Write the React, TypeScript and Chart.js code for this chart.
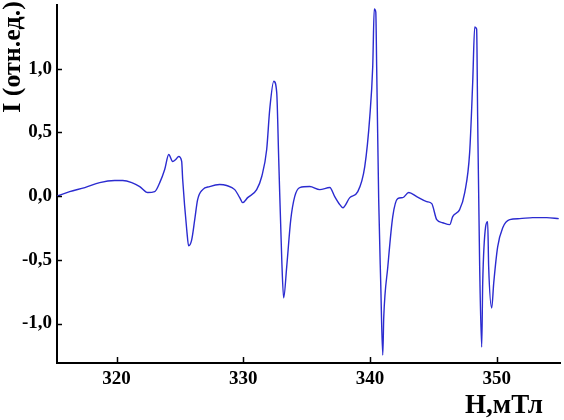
import React, { useEffect, useRef } from "react";
import { Chart, registerables } from "chart.js";

Chart.register(...registerables);

const FIELD = [315.3, 316.3, 317.5, 318.67, 319.85, 320.49, 321.2, 321.83, 322.46, 323.01, 323.41, 323.8, 324.12, 324.43, 324.67, 324.91, 325.14, 325.22, 325.54, 325.69, 325.93, 326.17, 326.4, 326.8, 327.35, 328.14, 328.69, 329.33, 329.72, 329.96, 330.35, 331.06, 331.46, 331.85, 332.09, 332.41, 332.64, 332.8, 333.04, 333.19, 333.43, 333.75, 334.06, 334.46, 335.25, 336.04, 336.83, 337.22, 337.62, 337.86, 338.41, 339.04, 339.59, 339.99, 340.22, 340.34, 340.46, 340.53, 340.69, 340.85, 341.01, 341.09, 341.41, 341.8, 342.19, 342.59, 343.06, 343.69, 344.48, 344.88, 345.27, 345.74, 346.3, 346.53, 347.08, 347.48, 347.87, 348.11, 348.27, 348.42, 348.5, 348.66, 348.82, 348.9, 349.13, 349.29, 349.37, 349.61, 349.77, 350.08, 350.48, 351.03, 351.82, 352.85, 353.95, 354.9];

const INTENSITY = [0.0, 0.035, 0.067, 0.106, 0.122, 0.122, 0.106, 0.075, 0.028, 0.035, 0.106, 0.209, 0.327, 0.272, 0.287, 0.311, 0.272, 0.13, -0.264, -0.39, -0.343, -0.185, -0.028, 0.051, 0.075, 0.091, 0.083, 0.051, -0.012, -0.051, -0.012, 0.051, 0.154, 0.366, 0.681, 0.902, 0.815, 0.287, -0.5, -0.799, -0.555, -0.185, -0.004, 0.067, 0.075, 0.051, 0.067, -0.004, -0.067, -0.091, -0.012, 0.035, 0.232, 0.626, 1.02, 1.469, 1.445, 1.02, -0.028, -0.681, -1.248, -0.949, -0.555, -0.161, -0.02, -0.012, 0.028, -0.004, -0.043, -0.059, -0.185, -0.209, -0.224, -0.161, -0.106, 0.028, 0.343, 0.894, 1.327, 1.311, 0.626, -0.555, -1.185, -0.681, -0.24, -0.201, -0.555, -0.878, -0.681, -0.398, -0.248, -0.185, -0.177, -0.169, -0.169, -0.177];

const X_TICKS = [320, 330, 340, 350];
const Y_TICKS = [-1.0, -0.5, 0.0, 0.5, 1.0];
const X_TITLE = "H,мТл";
const Y_TITLE = "I (отн.ед.)";

const FONT = "'Liberation Serif', 'Times New Roman', serif";

const fmtY = (v: number) => v.toFixed(1).replace(".", ",");

const decorPlugin = {
  id: "decor",
  afterDraw(chart: any) {
    const { ctx, chartArea: area } = chart;
    const xs = chart.scales.x;
    const ys = chart.scales.y;
    ctx.save();
    ctx.strokeStyle = "#000";
    ctx.lineWidth = 1.5;
    xs.ticks.forEach((t: any) => {
      const px = Math.round(xs.getPixelForValue(t.value)) + 0.5;
      ctx.beginPath();
      ctx.moveTo(px, area.bottom);
      ctx.lineTo(px, area.bottom - 6);
      ctx.stroke();
    });
    ys.ticks.forEach((t: any) => {
      const py = Math.round(ys.getPixelForValue(t.value)) + 0.5;
      ctx.beginPath();
      ctx.moveTo(area.left, py);
      ctx.lineTo(area.left + 5, py);
      ctx.stroke();
    });
    ctx.fillStyle = "#000";
    ctx.font = `bold 27px ${FONT}`;
    ctx.textAlign = "right";
    ctx.textBaseline = "alphabetic";
    ctx.fillText(X_TITLE, area.right - 17, area.bottom + 50);
    ctx.translate(20, 57);
    ctx.rotate(-Math.PI / 2);
    ctx.font = `bold 26px ${FONT}`;
    ctx.textAlign = "center";
    ctx.textBaseline = "alphabetic";
    ctx.fillText(Y_TITLE, 0, 0);
    ctx.restore();
  },
};

export default function App() {
  const ref = useRef<HTMLCanvasElement | null>(null);
  useEffect(() => {
    if (!ref.current) return;
    const n = Math.min(FIELD.length, INTENSITY.length);
    const points = [];
    for (let i = 0; i < n; i++) points.push({ x: FIELD[i], y: INTENSITY[i] });
    const chart = new Chart(ref.current, {
      type: "line",
      data: {
        datasets: [
          {
            data: points,
            borderColor: "#2b2bd0",
            borderWidth: 1.4,
            pointRadius: 0,
            cubicInterpolationMode: "monotone",
            fill: false,
          },
        ],
      },
      options: {
        responsive: false,
        animation: false,
        devicePixelRatio: 1,
        layout: { padding: { left: 0, top: 5, right: 4, bottom: 0 } },
        plugins: { legend: { display: false }, tooltip: { enabled: false } },
        scales: {
          x: {
            type: "linear",
            min: 315.3,
            max: 355,
            grid: { display: false, drawTicks: false },
            border: { display: true, color: "#000", width: 2 },
            afterBuildTicks: (s: any) => {
              s.ticks = X_TICKS.map((v) => ({ value: v }));
            },
            afterFit: (s: any) => {
              s.height = 57;
              s.paddingLeft = 0;
              s.paddingRight = 0;
            },
            ticks: {
              color: "#000",
              padding: 5,
              maxRotation: 0,
              font: { family: FONT, size: 19, weight: "bold" },
              callback: (v: any) => String(v),
            },
          },
          y: {
            type: "linear",
            min: -1.31,
            max: 1.5,
            grid: { display: false, drawTicks: false },
            border: { display: true, color: "#000", width: 2 },
            afterBuildTicks: (s: any) => {
              s.ticks = Y_TICKS.map((v) => ({ value: v }));
            },
            afterFit: (s: any) => {
              s.width = 57;
              s.paddingTop = 0;
              s.paddingBottom = 0;
            },
            ticks: {
              color: "#000",
              padding: 5,
              font: { family: FONT, size: 19, weight: "bold" },
              callback: (v: any) => fmtY(Number(v)),
            },
          },
        },
      },
      plugins: [decorPlugin],
    });
    return () => chart.destroy();
  }, []);
  return (
    <div style={{ position: "absolute", left: 0, top: 0, width: 564, height: 420, background: "#fff" }}>
      <canvas ref={ref} width={564} height={420} />
    </div>
  );
}
